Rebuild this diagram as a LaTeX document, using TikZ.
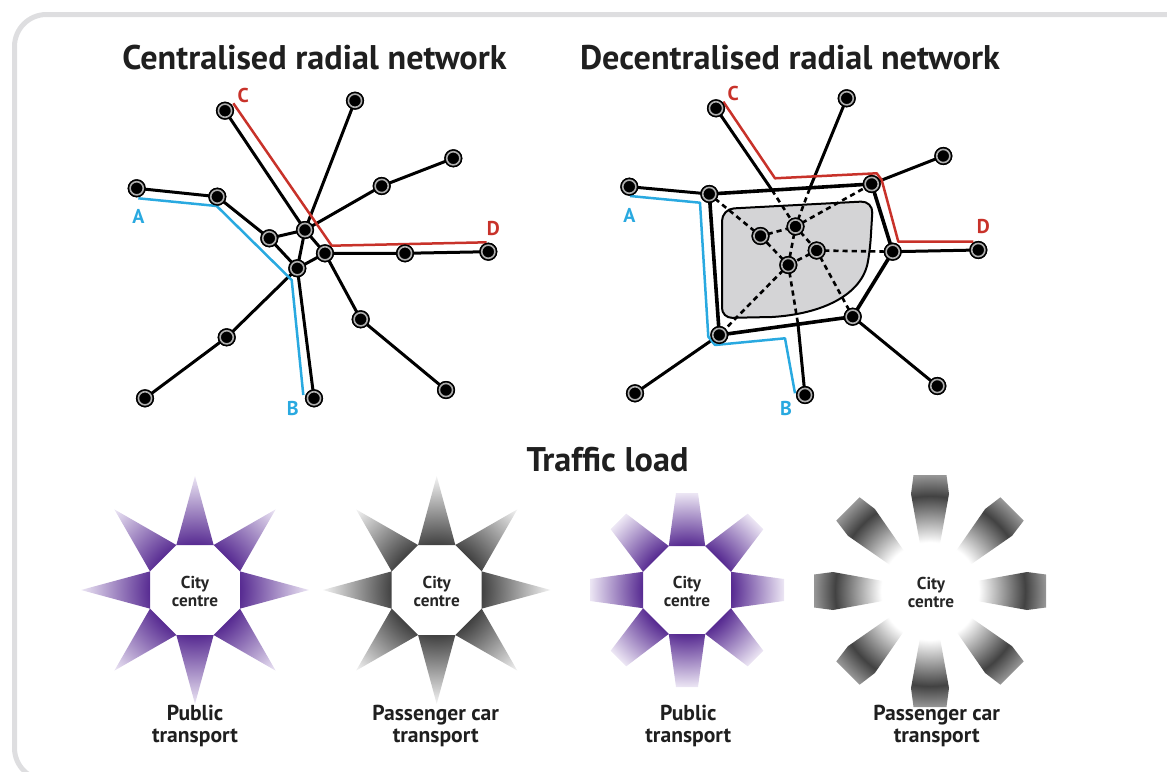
\documentclass[tikz,border=0pt]{standalone}
\usepackage{fontspec}
\setmainfont{PT Sans}
\usetikzlibrary{calc}

\definecolor{routered}{RGB}{200,50,42}
\definecolor{routeblue}{RGB}{41,169,224}
\definecolor{framegray}{RGB}{222,222,224}
\definecolor{zonegray}{RGB}{212,212,214}
\definecolor{ringgray}{RGB}{175,175,175}
\definecolor{pubdark}{RGB}{88,44,146}
\definecolor{pubtip}{RGB}{236,230,244}
\definecolor{cardark}{RGB}{66,66,66}
\definecolor{cartip}{RGB}{244,244,244}
\definecolor{carmid}{RGB}{150,150,150}

% radial fades for the traffic load stars
\pgfdeclareradialshading{pubstar}{\pgfpoint{0bp}{0bp}}{color(0bp)=(pubdark); color(10bp)=(pubdark); color(25bp)=(pubtip); color(50bp)=(pubtip)}
\pgfdeclareradialshading{carstar}{\pgfpoint{0bp}{0bp}}{color(0bp)=(cardark); color(10bp)=(cardark); color(25bp)=(cartip); color(50bp)=(cartip)}
\pgfdeclareradialshading{pubfan}{\pgfpoint{0bp}{0bp}}{color(0bp)=(pubdark); color(11.6bp)=(pubdark); color(25bp)=(pubtip); color(50bp)=(pubtip)}
\pgfdeclareradialshading{carfan}{\pgfpoint{0bp}{0bp}}{color(0bp)=(white); color(10.5bp)=(white); color(20.5bp)=(cardark); color(25bp)=(carmid); color(50bp)=(carmid)}

\begin{document}
\begin{tikzpicture}[x=0.5pt, y=-0.5pt,
    stop/.style={circle, draw=black, fill=black, line width=0.8pt, double=ringgray, double distance=0.8pt, minimum size=6.6pt, inner sep=0pt},
    link/.style={line width=1.5pt, line join=round},
    ringlink/.style={line width=1.8pt, line join=round},
    inner/.style={line width=1.3pt, dash pattern=on 2.6pt off 2pt},
    zone/.style={fill=zonegray, draw=black, line width=1pt},
    route/.style={line width=1.25pt, line join=round},
    title/.style={font=\bfseries\fontsize{17.1}{20}\selectfont, text=black!88},
    letter/.style={font=\bfseries\fontsize{10}{12}\selectfont},
    city/.style={font=\bfseries\fontsize{8.6}{9}\selectfont, align=center, text=black!85},
    caption/.style={font=\bfseries\fontsize{10.8}{11}\selectfont, align=center, text=black!88},
  ]
  \useasboundingbox (0,0) rectangle (1167,771);

  % frame
  \begin{scope}
    \clip (0,0) rectangle (1167,771);
    \draw[framegray, line width=2.5pt, rounded corners=16pt] (14.5,780) rectangle (1220,14.5);
  \end{scope}

  % titles
  \node[title] (ttl1) at (314.5,58) {Centralised radial network};
  \node[title] (ttl2) at (790,58) {Decentralised radial network};
  \node[title] (ttl3) at (607.5,460) {Traffic load};

  % Centralised network: stops
  \node[stop] (lC)   at (225,110.7) {};
  \node[stop] (lTop) at (355,100.7) {};
  \node[stop] (lNE)  at (453.3,158.3) {};
  \node[stop] (lNEm) at (381.7,186) {};
  \node[stop] (lA)   at (136.7,188.3) {};
  \node[stop] (lL2)  at (217.3,196.7) {};
  \node[stop] (lIn)  at (269.3,238.3) {};
  \node[stop] (lCt)  at (305,230) {};
  \node[stop] (lCr)  at (325,253.3) {};
  \node[stop] (lCb)  at (297.3,268.3) {};
  \node[stop] (lDm)  at (405,253.3) {};
  \node[stop] (lD)   at (488.3,251.7) {};
  \node[stop] (lSEm) at (360.7,319.3) {};
  \node[stop] (lSE)  at (446,390) {};
  \node[stop] (lSWm) at (226.7,337.3) {};
  \node[stop] (lSW)  at (145,398.3) {};
  \node[stop] (lB)   at (314,398.3) {};

  % Centralised network: lines
  \draw[link] (lA) -- (lL2) -- (lIn) -- (lCb);
  \draw[link] (lIn) -- (lCt);
  \draw[link] (lC) -- (lCt) -- (lCr);
  \draw[link] (lTop) -- (lCt);
  \draw[link] (lNE) -- (lNEm) -- (lCt);
  \draw[link] (lCt) -- (lCb) -- (lCr);
  \draw[link] (lCr) -- (lDm) -- (lD);
  \draw[link] (lCr) -- (lSEm) -- (lSE);
  \draw[link] (lCb) -- (lSWm) -- (lSW);
  \draw[link] (lCb) -- (lB);

  % Centralised network: routes
  \coordinate (lr1) at (233.3,103.3);
  \coordinate (lr2) at (331.7,245.7);
  \coordinate (lr3) at (486.7,242.3);
  \coordinate (lb1) at (138.3,198.3);
  \coordinate (lb2) at (216.7,206);
  \coordinate (lb3) at (286.7,275);
  \coordinate (lb4) at (291.7,280);
  \coordinate (lb5) at (303.3,395);
  \draw[route, routered] (lr1) -- (lr2) -- (lr3);
  \draw[route, routeblue] (lb1) -- (lb2) -- (lb3) -- (lb4) -- (lb5);
  \node[letter, text=routered]  (lCl) at (243.3,95) {C};
  \node[letter, text=routered]  (lDl) at (493.3,228.3) {D};
  \node[letter, text=routeblue] (lAl) at (138.3,216.7) {A};
  \node[letter, text=routeblue] (lBl) at (292.7,408.3) {B};

  % Decentralised network: stops
  \node[stop] (rC)   at (716,108.3) {};
  \node[stop] (rTop) at (846.7,98.3) {};
  \node[stop] (rNEo) at (943.3,156) {};
  \node[stop] (rNE)  at (871.7,184) {};
  \node[stop] (rA)   at (629.3,186.7) {};
  \node[stop] (rNW)  at (709.3,194) {};
  \node[stop] (rE)   at (892.7,251.7) {};
  \node[stop] (rD)   at (978.3,250) {};
  \node[stop] (rSE)  at (852.7,316.7) {};
  \node[stop] (rSEo) at (937.3,386) {};
  \node[stop] (rSW)  at (719.3,335) {};
  \node[stop] (rSWo) at (635,393.3) {};
  \node[stop] (rB)   at (805,395) {};
  \coordinate (tC) at ($(rNW)!0.386!(rNE)$);
  \coordinate (tT) at ($(rNW)!0.62!(rNE)$);
  \coordinate (bB) at ($(rSE)!0.41!(rSW)$);

  % city zone
  \draw[zone] (722,260) [rounded corners=6pt] -- (722,209) -- (873,201) -- (870,250) [sharp corners]
    .. controls (862,295) and (822,314) .. (772,317) [rounded corners=5pt] -- (722,318) -- cycle;

  \node[stop] (i1) at (760.5,236) {};
  \node[stop] (i2) at (795.5,226.5) {};
  \node[stop] (i3) at (816.7,250.5) {};
  \node[stop] (i4) at (788.3,265) {};

  % inner links
  \draw[inner] (rNW) -- (i1) -- (i2) -- (i4) -- (i1);
  \draw[inner] (i2) -- (i3) -- (i4);
  \draw[inner] (tC) -- (i2) -- (tT);
  \draw[inner] (i2) -- (rNE);
  \draw[inner] (i3) -- (rE);
  \draw[inner] (i3) -- (rSE);
  \draw[inner] (i4) -- (rSW);
  \draw[inner] (i4) -- (bB);

  % ring and spokes
  \draw[ringlink] (rNW) -- (rNE) -- (rE) -- (rSE) -- (rSW) -- (rNW);
  \draw[link] (rA) -- (rNW);
  \draw[link] (rNEo) -- (rNE);
  \draw[link] (rE) -- (rD);
  \draw[link] (rSE) -- (rSEo);
  \draw[link] (rSW) -- (rSWo);
  \draw[link] (rC) -- (tC);
  \draw[link] (rTop) -- (tT);
  \draw[link] (rB) -- (bB);

  % Decentralised network: routes
  \coordinate (rr1) at (723.3,101.7);
  \coordinate (rr2) at (775,178.3);
  \coordinate (rr3) at (876.7,173.3);
  \coordinate (rr4) at (881.7,180);
  \coordinate (rr5) at (898.3,241.7);
  \coordinate (rr6) at (973.3,241.7);
  \coordinate (rb1) at (630,196);
  \coordinate (rb2) at (700,202.7);
  \coordinate (rb3) at (708.3,336.7);
  \coordinate (rb4) at (715,345);
  \coordinate (rb5) at (785,338.3);
  \coordinate (rb6) at (795,393.3);
  \draw[route, routered] (rr1) -- (rr2) -- (rr3) -- (rr4) -- (rr5) -- (rr6);
  \draw[route, routeblue] (rb1) -- (rb2) -- (rb3) -- (rb4) -- (rb5) -- (rb6);
  \node[letter, text=routered]  (rCl) at (733.3,93.3) {C};
  \node[letter, text=routered]  (rDl) at (983.3,226.7) {D};
  \node[letter, text=routeblue] (rAl) at (629.3,215) {A};
  \node[letter, text=routeblue] (rBl) at (786,408.3) {B};

  % redraw stops over the lines
  \foreach \s in {lC,lTop,lNE,lNEm,lA,lL2,lIn,lCt,lCr,lCb,lDm,lD,lSEm,lSE,lSWm,lSW,lB,
                  rC,rTop,rNEo,rNE,rA,rNW,rE,rD,rSE,rSEo,rSW,rSWo,rB,i1,i2,i3,i4}
    \node[stop] at (\s) {};

  % Traffic load stars
  \begin{scope}[shift={(195,590)}]
    \shade[shading=pubstar] \foreach \a in {0,45,...,315} {
      ([rotate=\a]45,-18.64) -- ([rotate=\a]114,0) -- ([rotate=\a]45,18.64) -- cycle };
  \end{scope}
  \begin{scope}[shift={(436.7,590)}]
    \shade[shading=carstar] \foreach \a in {0,45,...,315} {
      ([rotate=\a]45,-18.64) -- ([rotate=\a]114,0) -- ([rotate=\a]45,18.64) -- cycle };
  \end{scope}
  \begin{scope}[shift={(687,590)}]
    \shade[shading=pubfan] \foreach \a in {0,45,...,315} {
      ([rotate=\a]44,-18.2) -- ([rotate=\a]97,-11) -- ([rotate=\a]97,11) -- ([rotate=\a]44,18.2) -- cycle };
  \end{scope}
  \begin{scope}[shift={(930,591)}]
    \shade[shading=carfan] \foreach \a in {0,45,...,315} {
      ([rotate=\a]47,-10) -- ([rotate=\a]97,-19) -- ([rotate=\a]116,-16.5)
      -- ([rotate=\a]116,16.5) -- ([rotate=\a]97,19) -- ([rotate=\a]47,10) -- cycle };
  \end{scope}

  \node[city] (cc1) at (195,591) {City\\centre};
  \node[city] (cc2) at (436.7,591) {City\\centre};
  \node[city] (cc3) at (687,591) {City\\centre};
  \node[city] (cc4) at (931,592) {City\\centre};

  \node[caption] (cap1) at (195,726) {Public\\transport};
  \node[caption] (cap2) at (435.7,726) {Passenger car\\transport};
  \node[caption] (cap3) at (688.3,726) {Public\\transport};
  \node[caption] (cap4) at (936.7,726) {Passenger car\\transport};
\end{tikzpicture}
\end{document}
